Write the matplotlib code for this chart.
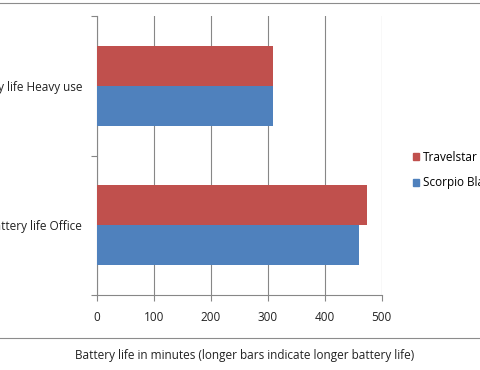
import matplotlib
matplotlib.use("Agg")
import matplotlib.pyplot as plt
from matplotlib.patches import Patch
from matplotlib.lines import Line2D

categories = ["Battery life Office", "Battery life Heavy use"]
series_names = ["Travelstar", "Scorpio Black"]
travelstar = [475, 309]
scorpio = [460, 309]
xticks = [0, 100, 200, 300, 400, 500]
xlabel = "Battery life in minutes (longer bars indicate longer battery life)"

RED = "#C0504D"
BLUE = "#4F81BD"
GRID = "#878787"

plt.rcParams['font.family'] = ['Open Sans', 'DejaVu Sans']
fs = 8.5

fig = plt.figure(figsize=(4.8, 3.7), dpi=100)
W, H = 480, 370
ax = fig.add_axes([96.7 / W, 1 - 295 / H, 285 / W, 279 / H])

bh = 0.287
pos = [0.5, 1.5]
ax.barh([p + bh / 2 for p in pos], travelstar, height=bh, color=RED, zorder=3)
ax.barh([p - bh / 2 for p in pos], scorpio, height=bh, color=BLUE, zorder=3)

ax.set_xlim(0, 500)
ax.set_ylim(0, 2)
ax.set_xticks(xticks)
ax.set_xticklabels([str(t) for t in xticks], fontsize=fs, color="#222222")
ax.set_yticks([0, 1, 2])
ax.set_yticklabels([])
ax.set_yticks(pos, minor=True)
ax.set_yticklabels(categories, minor=True, fontsize=fs, color="#222222")
ax.tick_params(axis='y', which='minor', length=0, pad=10.5)
ax.tick_params(axis='y', which='major', length=4, color=GRID, width=0.8)
ax.tick_params(axis='x', length=4, color=GRID, width=0.8, pad=7.5)
ax.grid(axis='x', color=GRID, linewidth=0.8, zorder=0)
for s in ['top', 'right']:
    ax.spines[s].set_visible(False)
for s in ['left', 'bottom']:
    ax.spines[s].set_color(GRID)
    ax.spines[s].set_linewidth(0.8)

fig.text(245 / W, 1 - 355 / H, xlabel, fontsize=fs, ha='center', va='center', color="#222222")

# chart area border
fig.add_artist(Line2D([0, 1], [1 - 2.5 / H, 1 - 2.5 / H], transform=fig.transFigure, color="#8C8C8C", lw=0.8))
fig.add_artist(Line2D([0, 1], [1 - 338 / H, 1 - 338 / H], transform=fig.transFigure, color="#8C8C8C", lw=0.8))

handles = [Patch(color=RED), Patch(color=BLUE)]
fig.legend(handles, series_names, loc='center left', bbox_to_anchor=(402 / W, 1 - 170 / H),
           frameon=False, fontsize=fs, handlelength=0.55, handleheight=0.55, handletextpad=0.35,
           labelspacing=1.1)

fig.savefig("out.png", dpi=100)
